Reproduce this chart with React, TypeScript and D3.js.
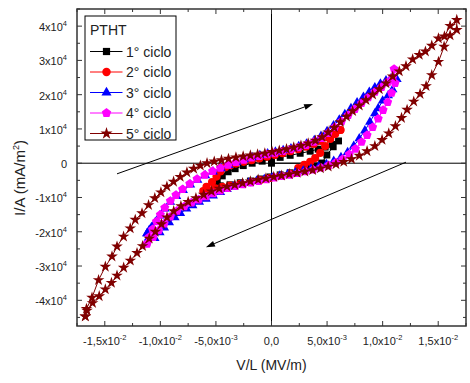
import React from "react";
import * as d3 from "d3";

// x values in units of 1e-3 MV/m, y values in units of 1e4 mA/m^2
const cycle1: [number, number][] = [
  [0, 0], [4.53, 0.0], [4.98, 0.24], [5.55, 0.48], [6.03, 0.65],
  [5.46, 0.55], [4.83, 0.47], [4.2, 0.41], [3.48, 0.35], [2.58, 0.29], [1.68, 0.23], [0.78, 0.17],
  [0, 0.12], [-0.84, 0.06], [-1.74, 0.0], [-2.54, -0.07], [-3.27, -0.16], [-3.9, -0.25],
  [-4.43, -0.37], [-4.88, -0.49], [-5.15, -0.57],
  [-4.61, -0.66], [-3.71, -0.63], [-2.81, -0.57], [-1.9, -0.52], [-1.0, -0.46], [-0.12, -0.40],
  [0.78, -0.34], [1.68, -0.28], [2.58, -0.22], [3.48, -0.14], [4.02, -0.08], [4.53, 0.0],
];

const cycle2: [number, number][] = [
  [6.2, 0.97], [5.6, 0.88], [5.0, 0.76], [4.4, 0.65], [3.8, 0.56], [3.1, 0.48], [2.4, 0.41],
  [1.7, 0.35], [1.0, 0.29], [0.3, 0.24], [-0.4, 0.19], [-1.1, 0.14], [-1.8, 0.09], [-2.5, 0.04],
  [-3.2, -0.01], [-3.7, -0.06], [-4.16, -0.12], [-4.6, -0.24], [-4.95, -0.39], [-5.35, -0.55],
  [-5.85, -0.69], [-6.14, -0.81],
  [-5.69, -0.78], [-5.06, -0.73], [-4.43, -0.69], [-3.71, -0.65], [-2.81, -0.6], [-1.9, -0.55],
  [-1.0, -0.49], [-0.12, -0.43], [0.78, -0.37], [1.68, -0.31], [2.4, -0.14], [2.94, -0.05],
  [3.48, 0.04], [3.93, 0.15], [4.38, 0.3], [4.83, 0.5], [5.28, 0.71], [5.73, 0.85], [6.2, 0.97],
];

const cycle3: [number, number][] = [
  [-11.2, -2.05], [-11.0, -1.95], [-10.8, -1.87], [-10.45, -1.72], [-10.05, -1.53], [-9.6, -1.33],
  [-9.1, -1.13], [-8.55, -0.96], [-7.95, -0.79], [-7.3, -0.63], [-6.65, -0.49], [-5.95, -0.36],
  [-5.25, -0.25], [-4.55, -0.15], [-3.85, -0.06], [-3.15, 0.03], [-2.45, 0.11], [-1.75, 0.17],
  [-1.05, 0.23], [-0.35, 0.28], [0.35, 0.33], [1.05, 0.38], [1.75, 0.43], [2.45, 0.49],
  [3.15, 0.57], [3.85, 0.67], [4.45, 0.79], [5.0, 0.93], [5.58, 1.1], [6.1, 1.27], [6.6, 1.43],
  [7.15, 1.6], [7.7, 1.77], [8.27, 1.93], [8.8, 2.08], [9.3, 2.21], [9.8, 2.32], [10.3, 2.41],
  [10.75, 2.47], [11.28, 2.45],
  [10.9, 2.15], [10.5, 1.98], [10.0, 1.82], [9.6, 1.6], [9.3, 1.45], [8.85, 1.2], [8.4, 0.95],
  [7.9, 0.72], [7.4, 0.5], [6.85, 0.32], [6.25, 0.17], [5.6, 0.06], [4.95, -0.03], [4.25, -0.1],
  [3.55, -0.16], [2.85, -0.22], [2.15, -0.27], [1.45, -0.32], [0.75, -0.37], [0.05, -0.42],
  [-0.65, -0.47], [-1.35, -0.52], [-2.05, -0.57], [-2.75, -0.63], [-3.45, -0.69], [-4.0, -0.76],
  [-4.6, -0.85], [-5.25, -0.95], [-5.9, -1.04], [-6.5, -1.13], [-7.1, -1.23], [-7.65, -1.33],
  [-8.2, -1.46], [-8.7, -1.58], [-9.2, -1.73], [-9.65, -1.88], [-10.05, -2.02], [-10.5, -2.19],
  [-11.07, -2.18], [-11.2, -2.05],
];

const cycle4: [number, number][] = [
  [-11.2, -2.35], [-11.0, -2.15], [-10.7, -1.93], [-10.35, -1.7], [-10.0, -1.5], [-9.6, -1.3],
  [-9.1, -1.1], [-8.6, -0.93], [-8.0, -0.76], [-7.35, -0.6], [-6.7, -0.46], [-6.0, -0.34],
  [-5.3, -0.23], [-4.6, -0.14], [-3.9, -0.05], [-3.2, 0.03], [-2.5, 0.1], [-1.8, 0.16],
  [-1.1, 0.21], [-0.4, 0.26], [0.3, 0.3], [1.0, 0.35], [1.7, 0.4], [2.4, 0.46], [3.1, 0.53],
  [3.8, 0.62], [4.5, 0.73], [5.1, 0.88], [5.7, 1.05], [6.3, 1.22], [6.9, 1.4], [7.5, 1.58],
  [8.1, 1.75], [8.7, 1.92], [9.3, 2.08], [9.9, 2.22], [10.45, 2.36], [10.9, 2.5], [11.03, 2.75],
  [11.12, 2.34], [10.8, 2.05], [10.45, 1.78], [10.04, 1.55], [9.6, 1.3], [9.1, 1.05], [8.6, 0.82],
  [8.1, 0.62], [7.55, 0.42], [7.0, 0.26], [6.4, 0.12], [5.8, 0.02], [5.15, -0.06], [4.45, -0.13],
  [3.75, -0.19], [3.05, -0.24], [2.35, -0.29], [1.65, -0.34], [0.95, -0.38], [0.25, -0.42],
  [-0.45, -0.47], [-1.15, -0.52], [-1.85, -0.57], [-2.55, -0.62], [-3.25, -0.67], [-3.95, -0.73],
  [-4.6, -0.8], [-5.25, -0.88], [-5.9, -0.97], [-6.55, -1.06], [-7.2, -1.15], [-7.85, -1.26],
  [-8.5, -1.39], [-9.1, -1.56], [-9.65, -1.76], [-10.15, -1.96], [-10.65, -2.16], [-11.2, -2.35],
];

const cycle5: [number, number][] = [
  [-16.75, -4.47], [-16.65, -4.25], [-16.15, -3.92], [-15.56, -3.41], [-14.95, -3.02],
  [-14.35, -2.72], [-13.9, -2.43], [-13.31, -2.14], [-12.71, -1.9], [-12.26, -1.65],
  [-11.65, -1.46], [-11.06, -1.22], [-10.5, -1.02], [-9.95, -0.85], [-9.41, -0.68],
  [-8.81, -0.54], [-8.21, -0.4], [-7.61, -0.27], [-7.0, -0.16], [-6.4, -0.07], [-5.8, 0.0],
  [-5.15, 0.05], [-4.5, 0.09], [-3.87, 0.13], [-3.2, 0.17], [-2.55, 0.2], [-1.9, 0.23],
  [-1.25, 0.26], [-0.6, 0.29], [0.05, 0.33], [0.7, 0.37], [1.35, 0.41], [2.0, 0.46], [2.65, 0.51],
  [3.3, 0.58], [3.95, 0.66], [4.55, 0.76], [5.1, 0.9], [5.65, 1.04], [6.2, 1.2], [6.75, 1.36],
  [7.3, 1.52], [7.9, 1.68], [8.5, 1.84], [9.1, 2.0], [9.7, 2.16], [10.3, 2.33], [10.9, 2.53],
  [11.5, 2.68], [12.1, 2.83], [12.7, 3.03], [13.3, 3.16], [13.85, 3.26], [14.42, 3.43],
  [15.02, 3.64], [15.56, 3.7], [16.07, 4.01], [16.67, 4.18],
  [16.67, 3.89], [16.07, 3.73], [15.53, 3.4], [15.02, 2.96], [14.42, 2.57], [13.91, 2.25],
  [13.37, 2.02], [12.8, 1.8], [12.2, 1.56], [11.7, 1.32], [11.15, 1.08], [10.55, 0.87],
  [9.95, 0.68], [9.3, 0.5], [8.6, 0.35], [7.9, 0.22], [7.2, 0.12], [6.5, 0.04], [5.8, -0.03],
  [5.1, -0.1], [4.4, -0.15], [3.7, -0.2], [3.0, -0.24], [2.3, -0.28], [1.6, -0.32], [0.9, -0.36],
  [0.2, -0.4], [-0.5, -0.44], [-1.2, -0.48], [-1.9, -0.53], [-2.6, -0.58], [-3.3, -0.63],
  [-4.0, -0.68], [-4.7, -0.74], [-5.4, -0.82], [-6.1, -0.92], [-6.8, -1.02], [-7.5, -1.13],
  [-8.15, -1.25], [-8.8, -1.4], [-9.4, -1.58], [-9.9, -1.78], [-10.45, -2.0], [-11.0, -2.2],
  [-11.6, -2.42], [-12.1, -2.62], [-12.7, -2.84], [-13.3, -3.05], [-13.9, -3.28], [-14.4, -3.49],
  [-14.95, -3.68], [-15.5, -3.88], [-16.1, -4.08], [-16.6, -4.3], [-16.75, -4.47],
];

const seriesNames = ["1° ciclo", "2° ciclo", "3° ciclo", "4° ciclo", "5° ciclo"];
const seriesColors = ["#000000", "#ff0000", "#0000ff", "#ff00ff", "#800000"];
const seriesData = [cycle1, cycle2, cycle3, cycle4, cycle5];
const legendTitle = "PTHT";

const xTickValues = [-15, -10, -5, 0, 5, 10, 15];
const xTickMantissa = ["-1,5x10", "-1,0x10", "-5,0x10", "0,0", "5,0x10", "1,0x10", "1,5x10"];
const xTickExponent = ["-2", "-2", "-3", "", "-3", "-2", "-2"];
const xMinorValues = [-17.5, -12.5, -7.5, -2.5, 2.5, 7.5, 12.5, 17.5];

const yTickValues = [-4, -3, -2, -1, 0, 1, 2, 3, 4];
const yTickMantissa = ["-4x10", "-3x10", "-2x10", "-1x10", "0", "1x10", "2x10", "3x10", "4x10"];
const yTickExponent = ["4", "4", "4", "4", "", "4", "4", "4", "4"];
const yMinorValues = [-4.5, -3.5, -2.5, -1.5, -0.5, 0.5, 1.5, 2.5, 3.5, 4.5];

// arrows annotation (data coordinates): [from, to]
const arrowUp: [number, number][] = [[-13.9, -0.31], [3.74, 1.73]];
const arrowDown: [number, number][] = [[12.1, 0.03], [-5.9, -2.45]];

const symbolPentagon = {
  draw(ctx: any, size: number) {
    const r = Math.sqrt(size / (2.5 * Math.sin((2 * Math.PI) / 5)));
    for (let i = 0; i < 5; i++) {
      const a = -Math.PI / 2 + (i * 2 * Math.PI) / 5;
      const px = r * Math.cos(a);
      const py = r * Math.sin(a);
      if (i === 0) ctx.moveTo(px, py);
      else ctx.lineTo(px, py);
    }
    ctx.closePath();
  },
};

const symbolTypes: any[] = [d3.symbolSquare, d3.symbolCircle, d3.symbolTriangle, symbolPentagon, d3.symbolStar];
const symbolSizes = [48, 52, 40, 54, 42];

const W = 470;
const H = 383;
const L = 77, R = 466, T = 9, B = 326;

export default function App() {
  const x = d3.scaleLinear().domain([-17.5, 17.5]).range([L, R]);
  const y = d3.scaleLinear().domain([-4.75, 4.5]).range([B, T]);
  const line = d3.line<[number, number]>().x((d) => x(d[0])).y((d) => y(d[1]));
  const font = "'Liberation Sans', Arial, Helvetica, sans-serif";

  const arrow = (a: [number, number][], key: string) => {
    const x1 = x(a[0][0]), y1 = y(a[0][1]), x2 = x(a[1][0]), y2 = y(a[1][1]);
    const ang = Math.atan2(y2 - y1, x2 - x1);
    const len = 9, wid = 3;
    const bx = x2 - len * Math.cos(ang), by = y2 - len * Math.sin(ang);
    const p1 = [bx + wid * Math.sin(ang), by - wid * Math.cos(ang)];
    const p2 = [bx - wid * Math.sin(ang), by + wid * Math.cos(ang)];
    return (
      <g key={key}>
        <line x1={x1} y1={y1} x2={bx} y2={by} stroke="#000" strokeWidth={1} />
        <path d={`M${x2},${y2}L${p1[0]},${p1[1]}L${p2[0]},${p2[1]}Z`} fill="#000" />
      </g>
    );
  };

  const legendRows = [51.5, 72, 92.5, 113, 133.5];

  return (
    <svg width={W} height={H} style={{ position: "absolute", left: 0, top: 0, background: "#fff" }} fontFamily={font}>
      <rect x={0} y={0} width={W} height={H} fill="#fff" />
      {/* zero lines */}
      <line x1={x(0)} x2={x(0)} y1={T} y2={B} stroke="#000" strokeWidth={1} />
      <line x1={L} x2={R} y1={y(0)} y2={y(0)} stroke="#000" strokeWidth={1} />

      {/* arrows */}
      {arrow(arrowUp, "a1")}
      {arrow(arrowDown, "a2")}

      {/* series */}
      {seriesData.map((data, i) => (
        <g key={"s" + i}>
          <path d={line(data) || ""} fill="none" stroke={seriesColors[i]} strokeWidth={1} />
          {data.map((d, j) => (
            <path
              key={j}
              transform={`translate(${x(d[0])},${y(d[1])})`}
              d={d3.symbol().type(symbolTypes[i]).size(symbolSizes[i])() || ""}
              fill={seriesColors[i]}
            />
          ))}
        </g>
      ))}

      {/* frame */}
      <rect x={L} y={T} width={R - L} height={B - T} fill="none" stroke="#333" strokeWidth={1.5} />

      {/* x ticks */}
      {xTickValues.map((v, i) => (
        <g key={"xt" + i}>
          <line x1={x(v)} x2={x(v)} y1={B} y2={B - 5} stroke="#333" />
          <line x1={x(v)} x2={x(v)} y1={T} y2={T + 5} stroke="#333" />
          <text x={x(v)} y={345} fontSize={11} textAnchor="middle" fill="#222">
            {xTickMantissa[i]}
            {xTickExponent[i] && (
              <tspan fontSize={7.5} dy={-5}>{xTickExponent[i]}</tspan>
            )}
          </text>
        </g>
      ))}
      {xMinorValues.map((v, i) => (
        <g key={"xm" + i}>
          <line x1={x(v)} x2={x(v)} y1={B} y2={B - 3} stroke="#333" />
          <line x1={x(v)} x2={x(v)} y1={T} y2={T + 3} stroke="#333" />
        </g>
      ))}

      {/* y ticks */}
      {yTickValues.map((v, i) => (
        <g key={"yt" + i}>
          <line x1={L} x2={L + 5} y1={y(v)} y2={y(v)} stroke="#333" />
          <line x1={R} x2={R - 5} y1={y(v)} y2={y(v)} stroke="#333" />
          <text x={67} y={y(v) + 5} fontSize={11} textAnchor="end" fill="#222">
            {yTickMantissa[i]}
            {yTickExponent[i] && (
              <tspan fontSize={7.5} dy={-5}>{yTickExponent[i]}</tspan>
            )}
          </text>
        </g>
      ))}
      {yMinorValues.map((v, i) => (
        <g key={"ym" + i}>
          <line x1={L} x2={L + 3} y1={y(v)} y2={y(v)} stroke="#333" />
          <line x1={R} x2={R - 3} y1={y(v)} y2={y(v)} stroke="#333" />
        </g>
      ))}

      {/* axis titles */}
      <text x={271.5} y={370} fontSize={14} textAnchor="middle" fill="#222">V/L (MV/m)</text>
      <text transform="translate(25,178) rotate(-90)" fontSize={15} textAnchor="middle" fill="#222">
        I/A (mA/m<tspan fontSize={9} dy={-6}>2</tspan><tspan dy={6}>)</tspan>
      </text>

      {/* legend */}
      <rect x={85} y={16} width={91} height={124} fill="#fff" stroke="#000" strokeWidth={1} />
      <text x={90} y={35} fontSize={14} fill="#222">{legendTitle}</text>
      {seriesNames.map((name, i) => (
        <g key={"lg" + i}>
          <line x1={90} x2={122.5} y1={legendRows[i]} y2={legendRows[i]} stroke={seriesColors[i]} strokeWidth={1} />
          <path
            transform={`translate(106.5,${legendRows[i]})`}
            d={d3.symbol().type(symbolTypes[i]).size(symbolSizes[i] + 4)() || ""}
            fill={seriesColors[i]}
          />
          <text x={126} y={legendRows[i] + 5} fontSize={14} fill="#222">{name}</text>
        </g>
      ))}
    </svg>
  );
}
